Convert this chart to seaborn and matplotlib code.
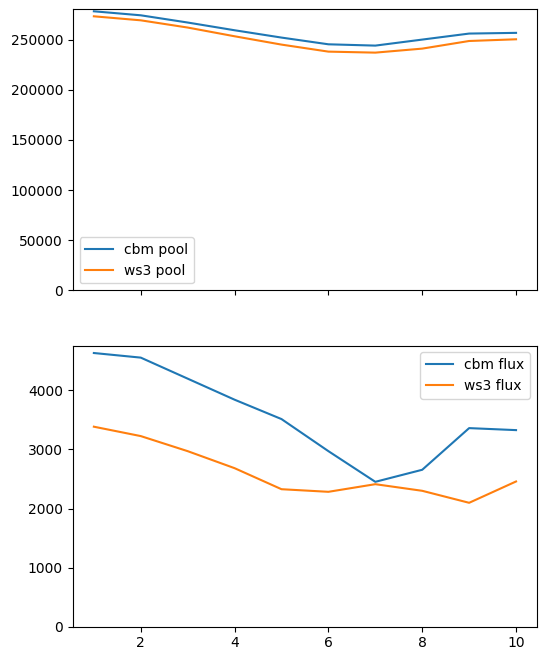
import numpy as np
import pandas as pd
import seaborn as sns
import matplotlib.pyplot as plt

years = [1, 2, 3, 4, 5, 6, 7, 8, 9, 10]

cbm_pool = [278200, 274200, 267000, 259300, 252000, 245300, 244000, 250000, 256000, 256700]
ws3_pool = [273200, 269200, 262000, 253300, 245000, 238000, 237000, 241000, 248600, 250300]

cbm_flux = [4632, 4554, 4198, 3842, 3514, 2971, 2452, 2656, 3361, 3327]
ws3_flux = [3385, 3226, 2971, 2683, 2327, 2283, 2412, 2300, 2097, 2458]


def main():
    fig, axes = plt.subplots(2, 1, sharex=True, figsize=(5.47, 6.59))
    fig.subplots_adjust(left=0.133, right=0.982, top=0.986, bottom=0.049, hspace=0.196)

    # pools
    sns.lineplot(x=years, y=cbm_pool, label='cbm pool', ax=axes[0])
    sns.lineplot(x=years, y=ws3_pool, label='ws3 pool', ax=axes[0])
    axes[0].set_ylim(bottom=0)
    axes[0].legend(loc='lower left')

    # fluxes
    sns.lineplot(x=years, y=cbm_flux, label='cbm flux', ax=axes[1])
    sns.lineplot(x=years, y=ws3_flux, label='ws3 flux', ax=axes[1])
    axes[1].set_ylim(bottom=0)
    axes[1].legend(loc='upper right')

    plt.savefig('out.png', dpi=100)


if __name__ == '__main__':
    main()
